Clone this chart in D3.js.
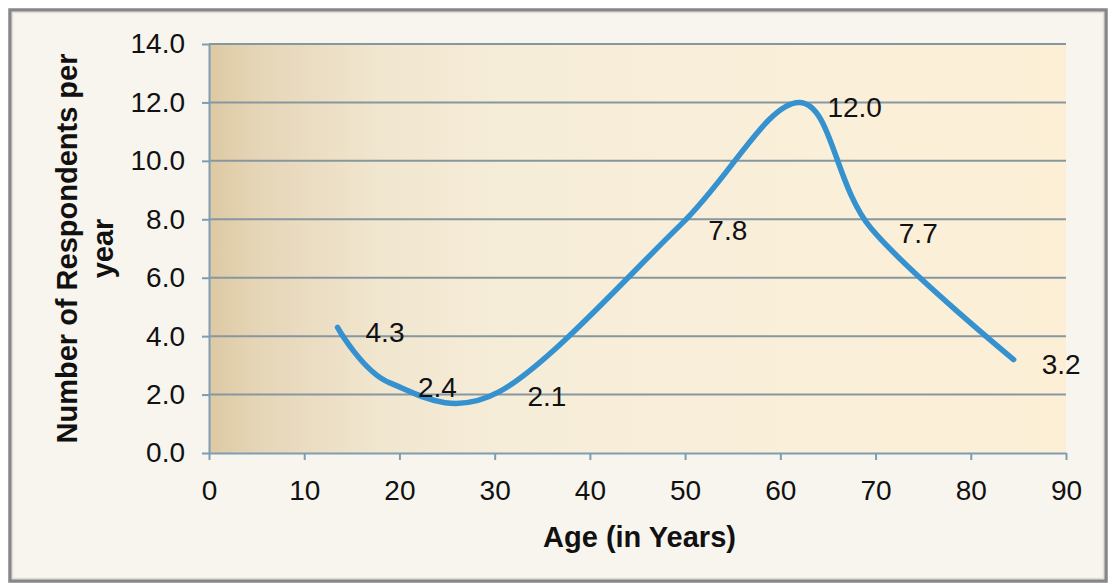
<!DOCTYPE html>
<html>
<head>
<meta charset="utf-8">
<script src="https://cdn.jsdelivr.net/npm/d3@7"></script>
<style>
  html, body { margin: 0; padding: 0; background: #ffffff; }
  svg { display: block; }
  text { font-family: "Liberation Sans", Arial, sans-serif; fill: #111; }
</style>
</head>
<body>
<svg id="chart" width="1113" height="588"></svg>
<script>
// ---- data ----
const ages = [13.5, 19, 30.5, 49.5, 62, 69.5, 84.5];
const respondents = [4.3, 2.4, 2.1, 7.8, 12.0, 7.7, 3.2];
const dataLabels = ["4.3", "2.4", "2.1", "7.8", "12.0", "7.7", "3.2"];
const xTicks = [0, 10, 20, 30, 40, 50, 60, 70, 80, 90];
const yTicks = [0, 2, 4, 6, 8, 10, 12, 14];
const xTitle = "Age (in Years)";
const yTitleLines = ["Number of Respondents per", "year"];

const svg = d3.select("#chart");

// frame
svg.append("rect").attr("x", 10).attr("y", 10).attr("width", 1096).attr("height", 571)
  .attr("fill", "#f8f5ee").attr("stroke", "#878787").attr("stroke-width", 3.5);
svg.append("rect").attr("x", 12.5).attr("y", 12.5).attr("width", 1091).attr("height", 566)
  .attr("fill", "none").attr("stroke", "#e2dfda").attr("stroke-width", 1.5);

const L = 209, R = 1066, T = 44, B = 453;
const x = d3.scaleLinear().domain([0, 90]).range([L, R]);
const y = d3.scaleLinear().domain([0, 14]).range([B, T]);

// gradient
const defs = svg.append("defs");
const grad = defs.append("linearGradient").attr("id", "bg").attr("x1", "0").attr("x2", "1").attr("y1", "0").attr("y2", "0");
[[0, "#ddc9a3"], [0.06, "#e6d6b8"], [0.2, "#f1e6cf"], [0.35, "#f6edd9"], [0.7, "#faefd9"], [1, "#fcefd6"]]
  .forEach(([o, c]) => grad.append("stop").attr("offset", o).attr("stop-color", c));

svg.append("rect").attr("x", L).attr("y", T).attr("width", R - L).attr("height", B - T).attr("fill", "url(#bg)");

// gridlines
svg.append("g").selectAll("line").data(yTicks.filter(v => v > 0)).join("line")
  .attr("x1", L).attr("x2", R).attr("y1", d => y(d)).attr("y2", d => y(d))
  .attr("stroke", "#87979f").attr("stroke-width", 2);

// axes
const axisColor = "#7f9db2";
const yAxis = svg.append("g").attr("transform", `translate(${L},0)`)
  .call(d3.axisLeft(y).tickValues(yTicks).tickFormat(d3.format(".1f")).tickSizeInner(7).tickSizeOuter(0).tickPadding(17));
const xAxis = svg.append("g").attr("transform", `translate(0,${B})`)
  .call(d3.axisBottom(x).tickValues(xTicks).tickFormat(d3.format("d")).tickSizeInner(7).tickSizeOuter(0).tickPadding(20));
[yAxis, xAxis].forEach(g => {
  g.select(".domain").attr("stroke", axisColor).attr("stroke-width", 2);
  g.selectAll(".tick line").attr("stroke", axisColor).attr("stroke-width", 2);
  g.selectAll(".tick text").attr("font-size", 28).attr("fill", "#111")
    .attr("font-family", "'Liberation Sans', Arial, sans-serif");
});

// line
const pts = ages.map((a, i) => [a, respondents[i]]);
const line = d3.line().x(d => x(d[0])).y(d => y(d[1])).curve(d3.curveCardinal.tension(0));
svg.append("path").datum(pts).attr("d", line)
  .attr("fill", "none").attr("stroke", "#3592cf").attr("stroke-width", 5.5)
  .attr("stroke-linecap", "round").attr("stroke-linejoin", "round");

// data labels
svg.append("g").selectAll("text").data(pts).join("text")
  .attr("x", d => x(d[0]) + 28).attr("y", d => y(d[1]) + 5)
  .attr("dominant-baseline", "central").attr("font-size", 28)
  .text((d, i) => dataLabels[i]);

// titles
svg.append("text").attr("x", (L + R) / 2 + 2).attr("y", 547).attr("text-anchor", "middle")
  .attr("font-size", 29).attr("font-weight", "bold").text(xTitle);

const yt = svg.append("text").attr("transform", `translate(77,${(T + B) / 2}) rotate(-90)`)
  .attr("text-anchor", "middle").attr("font-size", 29).attr("font-weight", "bold");
yTitleLines.forEach((t, i) => yt.append("tspan").attr("x", 0).attr("dy", i === 0 ? 0 : 36).text(t));
</script>
</body>
</html>
